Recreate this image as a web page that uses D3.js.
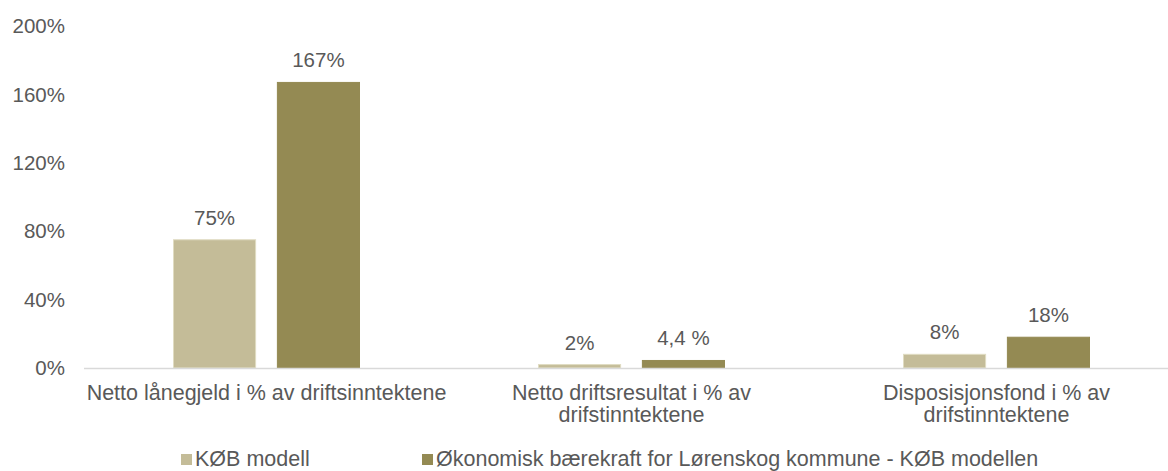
<!DOCTYPE html>
<html>
<head>
    <title>KØB</title>
    <style>
        body { margin: 0; background: #fff; }
        svg text { font-family: "Liberation Sans", Arial, sans-serif; fill: #595959; }
    </style>
    <script src="https://d3js.org/d3.v7.min.js"></script>
</head>
<body>
<script type="text/javascript">

    // data
    var categories = [
        ['Netto lånegjeld i % av driftsinntektene'],
        ['Netto driftsresultat i % av', 'drifstinntektene'],
        ['Disposisjonsfond i % av', 'drifstinntektene']
    ];
    var seriesNames = ['KØB modell', 'Økonomisk bærekraft for Lørenskog kommune - KØB modellen'];
    var kobModell = [75, 2, 8];
    var lorenskog = [167, 4.4, 18];
    var kobLabels = ['75%', '2%', '8%'];
    var lorenskogLabels = ['167%', '4,4 %', '18%'];
    var yTicks = [0, 40, 80, 120, 160, 200];

    var colors = ['#c4bc98', '#948a53'];
    var strokes = ['#e0dcc2', '#948a53'];

    var width = 1168, height = 471;
    var x0 = 84, x1 = 1179, yTop = 26, yBottom = 368;
    var fontSize = '20.5px';
    var labelSize = '21.5px';

    var svg = d3.select('body').append('svg')
        .attr('width', width)
        .attr('height', height);

    var x = d3.scaleBand()
        .domain(d3.range(categories.length))
        .range([x0, x1]);

    var xs = d3.scaleBand()
        .domain([0, 1])
        .range([89, x.bandwidth() - 89])
        .paddingInner(0.2);

    var y = d3.scaleLinear()
        .domain([0, 200])
        .range([yBottom, yTop]);

    // y axis labels
    svg.append('g').selectAll('text')
        .data(yTicks)
        .enter().append('text')
        .attr('x', 65)
        .attr('y', function(d) { return y(d); })
        .attr('dy', '0.35em')
        .attr('text-anchor', 'end')
        .style('font-size', fontSize)
        .text(function(d) { return d + '%'; });

    var series = [
        {vals: kobModell, labels: kobLabels},
        {vals: lorenskog, labels: lorenskogLabels}
    ];

    var groups = svg.selectAll('g.cat')
        .data(categories)
        .enter().append('g')
        .attr('class', 'cat')
        .attr('transform', function(d, i) { return 'translate(' + x(i) + ',0)'; });

    series.forEach(function(s, si) {
        groups.append('rect')
            .attr('x', xs(si) + 0.5)
            .attr('width', xs.bandwidth() - 1)
            .attr('y', function(d, i) { return y(s.vals[i]); })
            .attr('height', function(d, i) { return yBottom - y(s.vals[i]); })
            .style('fill', colors[si])
            .style('stroke', strokes[si])
            .style('stroke-width', 1);

        groups.append('text')
            .attr('x', xs(si) + xs.bandwidth() / 2)
            .attr('y', function(d, i) { return y(s.vals[i]) - 15; })
            .attr('text-anchor', 'middle')
            .style('font-size', fontSize)
            .text(function(d, i) { return s.labels[i]; });
    });

    // x axis line
    svg.append('line')
        .attr('x1', x0).attr('x2', width)
        .attr('y1', yBottom + 0.5).attr('y2', yBottom + 0.5)
        .style('stroke', '#d9d9d9')
        .style('stroke-width', 1.5);

    // category labels
    groups.each(function(d) {
        var g = d3.select(this);
        d.forEach(function(line, li) {
            g.append('text')
                .attr('x', x.bandwidth() / 2)
                .attr('y', 400 + li * 22)
                .attr('text-anchor', 'middle')
                .style('font-size', labelSize)
                .text(line);
        });
    });

    // legend
    var legendX = [181, 422];
    var legend = svg.selectAll('g.legend')
        .data(seriesNames)
        .enter().append('g')
        .attr('class', 'legend')
        .attr('transform', function(d, i) { return 'translate(' + legendX[i] + ',454)'; });

    legend.append('rect')
        .attr('width', 11).attr('height', 11)
        .style('fill', function(d, i) { return colors[i]; });

    legend.append('text')
        .attr('x', 14)
        .attr('y', 11.5)
        .style('font-size', labelSize)
        .text(function(d) { return d; });

</script>
</body>
</html>
